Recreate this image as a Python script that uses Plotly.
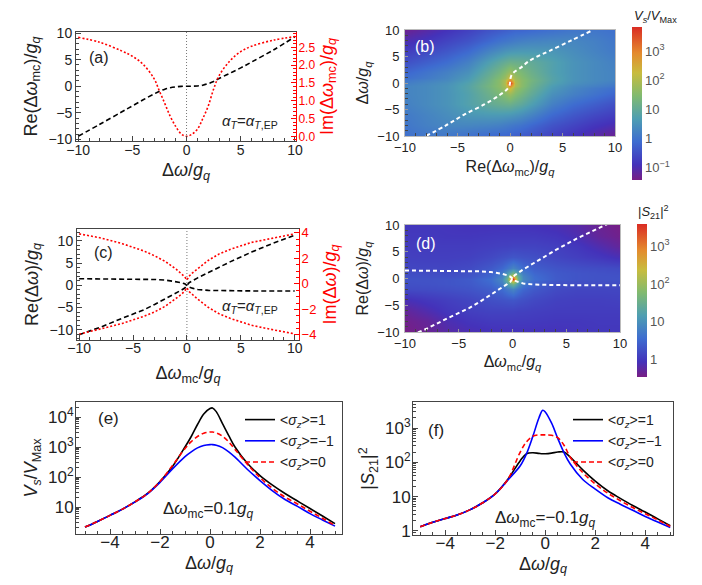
import plotly.graph_objects as go

# ------------------------------------------------------------------ data
# (a) Re / Im of Δω_mc versus Δω
a_dw = [-10, -8, -6, -5, -4, -3, -2.5, -2, -1.5, -1, -0.5, 0, 0.5, 1, 1.5, 2, 2.5, 3, 4, 5, 6, 8, 10]
a_re_mc = [-9.4, -7.15, -4.85, -3.7, -2.55, -1.45, -0.95, -0.55, -0.28, -0.12, -0.03, 0.0, 0.01, 0.05,
           0.2, 0.5, 0.9, 1.45, 2.45, 3.45, 4.55, 6.8, 9.3]
a_im_mc = [2.78, 2.64, 2.40, 2.25, 2.02, 1.62, 1.27, 0.92, 0.56, 0.28, 0.07, 0.0, 0.06, 0.2, 0.5,
           0.85, 1.33, 1.7, 2.12, 2.38, 2.53, 2.7, 2.8]

# (b) white dashed curve: Δω versus Re(Δω_mc)
b_line_dw = [-10, -8, -6, -4, -2.5, -1.5, -1, -0.5, 0, 0.5, 1, 1.5, 2, 3, 4, 5, 6, 8, 10]
b_line_re = [-8.0, -6.1, -4.4, -2.4, -1.15, -0.45, -0.2, -0.05, 0.0, 0.02, 0.06, 0.15, 0.35, 1.1,
             1.7, 2.6, 3.7, 5.8, 7.9]

# (b) heat map  log10(Vs/VMax)
b_x = [-10, -8, -6, -4, -2, -1, -0.5, 0, 0.5, 1, 2, 4, 6, 8, 10]
b_y = [-10, -8, -6, -4, -2, -1, -0.5, 0, 0.5, 1, 2, 4, 6, 8, 10]
b_logz = [
    [-0.05, 0.05, 0.05, -0.05, -0.15, -0.2, -0.2, -0.25, -0.3, -0.35, -0.45, -0.7, -0.9, -1.1, -1.3],
    [0.05, 0.2, 0.3, 0.3, 0.25, 0.2, 0.15, 0.1, 0.05, 0.0, -0.15, -0.45, -0.65, -0.85, -1.0],
    [0.1, 0.25, 0.4, 0.55, 0.6, 0.6, 0.58, 0.55, 0.5, 0.42, 0.25, -0.15, -0.4, -0.6, -0.75],
    [0.2, 0.35, 0.5, 0.75, 1.0, 1.1, 1.13, 1.15, 1.05, 0.95, 0.7, 0.2, -0.1, -0.3, -0.5],
    [0.25, 0.35, 0.5, 0.75, 1.15, 1.4, 1.55, 1.75, 1.5, 1.3, 1.0, 0.45, 0.2, 0.0, -0.2],
    [0.25, 0.35, 0.5, 0.8, 1.25, 1.55, 1.8, 2.35, 1.75, 1.5, 1.15, 0.6, 0.3, 0.1, -0.05],
    [0.25, 0.35, 0.5, 0.8, 1.3, 1.6, 1.9, 2.9, 1.95, 1.6, 1.2, 0.65, 0.35, 0.2, 0.05],
    [0.15, 0.3, 0.45, 0.75, 1.25, 1.6, 2.0, 3.85, 2.0, 1.6, 1.25, 0.75, 0.45, 0.3, 0.15],
    [0.05, 0.2, 0.35, 0.65, 1.2, 1.6, 1.95, 2.9, 1.9, 1.6, 1.3, 0.8, 0.5, 0.35, 0.25],
    [-0.05, 0.1, 0.3, 0.6, 1.15, 1.5, 1.75, 2.35, 1.8, 1.55, 1.25, 0.8, 0.5, 0.35, 0.25],
    [-0.2, 0.0, 0.2, 0.45, 1.0, 1.3, 1.5, 1.75, 1.55, 1.4, 1.15, 0.75, 0.5, 0.35, 0.25],
    [-0.5, -0.3, -0.1, 0.2, 0.7, 0.95, 1.05, 1.15, 1.13, 1.1, 1.0, 0.75, 0.5, 0.35, 0.2],
    [-0.75, -0.6, -0.4, -0.15, 0.25, 0.42, 0.5, 0.55, 0.58, 0.6, 0.6, 0.55, 0.4, 0.25, 0.1],
    [-1.0, -0.85, -0.65, -0.45, -0.15, 0.0, 0.05, 0.1, 0.15, 0.2, 0.25, 0.3, 0.3, 0.2, 0.05],
    [-1.3, -1.1, -0.9, -0.7, -0.45, -0.35, -0.3, -0.25, -0.2, -0.2, -0.15, -0.05, 0.05, 0.05, -0.05],
]

# (c) Re / Im of Δω versus Δω_mc
c_dmc = [-10, -8, -6, -4, -3, -2, -1, -0.5, -0.2, 0, 0.2, 0.5, 1, 2, 3, 4, 6, 8, 10]
c_re_1 = [-11.1, -9.4, -7.4, -5.5, -4.3, -3.05, -1.75, -1.05, -0.6, 0.0, 0.6, 1.0, 1.7, 2.9, 4.1,
          5.3, 7.5, 9.5, 11.3]
c_re_2 = [1.5, 1.48, 1.45, 1.4, 1.33, 1.2, 0.9, 0.6, 0.35, 0.0, -0.38, -0.62, -0.92, -1.13, -1.2,
          -1.23, -1.25, -1.26, -1.27]
c_im_1 = [3.92, 3.6, 3.15, 2.58, 2.2, 1.75, 1.15, 0.82, 0.55, 0.3, 0.6, 0.85, 1.2, 1.85, 2.35, 2.7,
          3.25, 3.6, 3.92]
c_im_2 = [-3.95, -3.55, -3.1, -2.55, -2.2, -1.75, -1.15, -0.82, -0.55, -0.3, -0.6, -0.85, -1.2,
          -1.85, -2.35, -2.7, -3.25, -3.6, -3.92]

# (d) heat map  log10(|S21|^2)
d_x = [-10, -8, -6, -4, -2, -1, -0.5, 0, 0.5, 1, 2, 4, 6, 8, 10]
d_y = [-10, -8, -6, -4, -2, -1, -0.5, 0, 0.5, 1, 2, 4, 6, 8, 10]
d_logz = [
    [-0.45, -0.35, -0.2, -0.12, -0.07, -0.05, -0.05, -0.05, -0.05, -0.05, -0.05, -0.05, -0.02, 0.0, 0.0],
    [-0.4, -0.3, -0.12, -0.02, 0.03, 0.03, 0.03, 0.03, 0.03, 0.03, 0.02, 0.0, 0.0, 0.02, 0.02],
    [-0.3, -0.15, 0.0, 0.08, 0.12, 0.12, 0.12, 0.12, 0.1, 0.1, 0.08, 0.05, 0.05, 0.05, 0.05],
    [-0.1, 0.0, 0.08, 0.15, 0.25, 0.28, 0.3, 0.32, 0.28, 0.25, 0.18, 0.1, 0.08, 0.08, 0.1],
    [0.2, 0.22, 0.25, 0.3, 0.4, 0.55, 0.7, 0.85, 0.65, 0.5, 0.35, 0.2, 0.15, 0.15, 0.15],
    [0.25, 0.27, 0.3, 0.35, 0.5, 0.75, 1.15, 1.6, 1.05, 0.7, 0.45, 0.27, 0.22, 0.22, 0.22],
    [0.27, 0.28, 0.3, 0.36, 0.55, 0.85, 1.4, 2.5, 1.3, 0.8, 0.5, 0.3, 0.25, 0.25, 0.25],
    [0.28, 0.28, 0.3, 0.37, 0.58, 0.9, 1.5, 3.55, 1.5, 0.9, 0.58, 0.37, 0.3, 0.28, 0.28],
    [0.25, 0.25, 0.25, 0.3, 0.5, 0.8, 1.3, 2.5, 1.4, 0.85, 0.55, 0.36, 0.3, 0.28, 0.27],
    [0.22, 0.22, 0.22, 0.27, 0.45, 0.7, 1.05, 1.6, 1.15, 0.75, 0.5, 0.35, 0.3, 0.27, 0.25],
    [0.15, 0.15, 0.15, 0.2, 0.35, 0.5, 0.65, 0.85, 0.7, 0.55, 0.4, 0.3, 0.25, 0.22, 0.2],
    [0.1, 0.08, 0.08, 0.1, 0.18, 0.25, 0.28, 0.32, 0.3, 0.28, 0.25, 0.15, 0.08, 0.0, -0.1],
    [0.05, 0.05, 0.05, 0.05, 0.08, 0.1, 0.1, 0.12, 0.12, 0.12, 0.12, 0.08, 0.0, -0.15, -0.3],
    [0.02, 0.02, 0.0, 0.0, 0.02, 0.03, 0.03, 0.03, 0.03, 0.03, 0.03, -0.02, -0.12, -0.3, -0.4],
    [0.0, 0.0, -0.02, -0.05, -0.05, -0.05, -0.05, -0.05, -0.05, -0.05, -0.07, -0.12, -0.2, -0.35, -0.45],
]

# (e) Vs/VMax versus Δω for Δω_mc = 0.1 g_q
e_dw = [-5, -4.5, -4, -3.5, -3, -2.5, -2, -1.5, -1, -0.75, -0.5, -0.25, 0, 0.1, 0.25, 0.5, 0.75, 1,
        1.5, 2, 2.5, 3, 3.5, 4, 4.5, 5]
e_sz_p1 = [2.14, 3.31, 5.25, 8.5, 14.8, 28.2, 70.8, 224, 1000, 2240, 5620, 12600, 19100, 20000,
           15100, 6030, 2400, 1000, 282, 112, 53.7, 28.2, 15.8, 8.9, 5.0, 2.8]
e_sz_m1 = [2.14, 3.31, 5.25, 8.5, 14.8, 27.5, 66, 186, 479, 692, 933, 1120, 1200, 1200, 1150, 955,
           692, 457, 178, 76, 34.7, 17.8, 10.5, 6.0, 3.7, 2.3]
e_sz_0 = [2.14, 3.31, 5.25, 8.5, 14.8, 28.2, 70.8, 240, 891, 1510, 2240, 2880, 3160, 3160, 2950,
          2290, 1480, 832, 263, 95.5, 41.7, 21.4, 12.6, 7.2, 4.2, 2.4]

# (f) |S21|^2 versus Δω for Δω_mc = -0.1 g_q
f_dw = [-5, -4.5, -4, -3.5, -3, -2.5, -2, -1.5, -1, -0.75, -0.5, -0.25, -0.1, 0, 0.25, 0.5, 0.75,
        1, 1.5, 2, 2.5, 3, 3.5, 4, 4.5, 5]
f_sz_p1 = [1.32, 1.78, 2.29, 2.95, 4.17, 6.6, 12.0, 31.6, 112, 178, 191, 182, 178, 178, 186, 200,
           200, 141, 60.3, 28.2, 14.8, 8.9, 5.5, 3.55, 2.24, 1.41]
f_sz_m1 = [1.32, 1.78, 2.29, 2.95, 4.17, 6.6, 12.0, 30.2, 79.4, 178, 562, 2000, 3310, 2950, 1410,
           501, 191, 89, 31.6, 16.6, 9.3, 6.0, 4.0, 2.63, 1.82, 1.26]
f_sz_0 = [1.32, 1.78, 2.29, 2.95, 4.17, 6.6, 12.0, 31.6, 200, 398, 575, 631, 631, 631, 617, 525,
          316, 141, 50.1, 23.4, 12.6, 7.6, 4.8, 3.16, 2.09, 1.35]

cb_b_vals = [-1, 0, 1, 2, 3]
cb_b_text = ["10<sup>−1</sup>", "1", "10", "10<sup>2</sup>", "10<sup>3</sup>"]
cb_d_vals = [0, 1, 2, 3]
cb_d_text = ["1", "10", "10<sup>2</sup>", "10<sup>3</sup>"]
lin_ticks = [-10, -5, 0, 5, 10]
e_x_ticks = [-4, -2, 0, 2, 4]
e_y_vals = [10, 100, 1000, 10000]
e_y_text = ["10", "10<sup>2</sup>", "10<sup>3</sup>", "10<sup>4</sup>"]
f_y_vals = [1, 10, 100, 1000]
f_y_text = ["1", "10", "10<sup>2</sup>", "10<sup>3</sup>"]

# ------------------------------------------------------------------ layout helpers
W, H = 702, 585
FONT = "Liberation Sans, Arial, Helvetica, sans-serif"


def dx(p0, p1):
    return [p0 / W, p1 / W]


def dy(top, bottom):
    return [1 - bottom / H, 1 - top / H]


RAINBOW = [
    [0.0, "rgb(120,30,132)"],
    [0.1, "rgb(68,50,186)"],
    [0.25, "rgb(62,108,208)"],
    [0.4, "rgb(78,158,178)"],
    [0.55, "rgb(128,186,112)"],
    [0.7, "rgb(200,188,62)"],
    [0.83, "rgb(228,138,46)"],
    [1.0, "rgb(218,44,36)"],
]

FRAME = "#444444"
TICKF = dict(family=FONT, size=14, color="#222222")


def frame_axis(domain, rng, tickvals, anchor, minor_dtick, mirror=True, tickfont=None, **kw):
    d = dict(domain=domain, range=rng, tickvals=tickvals, anchor=anchor, automargin=False,
             ticks="inside", ticklen=5, tickcolor=FRAME, tickwidth=1,
             showline=True, linecolor=FRAME, linewidth=1, mirror=mirror,
             showgrid=False, zeroline=False, tickfont=tickfont or TICKF,
             minor=dict(ticks="inside", ticklen=3, dtick=minor_dtick, tickcolor=FRAME,
                        showgrid=False))
    d.update(kw)
    return d


fig = go.Figure()

DASH_K = dict(color="black", width=1.6, dash="5px,3px")
DOT_R = dict(color="red", width=1.6, dash="2px,2px")

# ---- (a)
fig.add_trace(go.Scatter(x=a_dw, y=a_re_mc, mode="lines", line=DASH_K, line_shape="spline",
                         xaxis="x", yaxis="y", showlegend=False))
fig.add_trace(go.Scatter(x=a_dw, y=a_im_mc, mode="lines", line=DOT_R, line_shape="spline",
                         xaxis="x", yaxis="y2", showlegend=False))

# ---- (b)
fig.add_trace(go.Heatmap(x=b_x, y=b_y, z=b_logz, zsmooth="best", colorscale=RAINBOW,
                         zmin=-1.43, zmax=3.83, xaxis="x2", yaxis="y3",
                         colorbar=dict(x=624 / W, xanchor="left", y=1 - 19 / H, yanchor="top",
                                       len=153 / H, lenmode="fraction", thickness=10,
                                       outlinewidth=0, xpad=0, ypad=0, ticks="",
                                       tickvals=cb_b_vals, ticktext=cb_b_text,
                                       tickfont=dict(family=FONT, size=13, color="#555555"))))
fig.add_trace(go.Scatter(x=b_line_re, y=b_line_dw, mode="lines", line_shape="spline",
                         line=dict(color="white", width=2, dash="4px,3px"),
                         xaxis="x2", yaxis="y3", showlegend=False))

# ---- (c)
fig.add_trace(go.Scatter(x=c_dmc, y=c_re_1, mode="lines", line=DASH_K, xaxis="x3", yaxis="y4",
                         showlegend=False))
fig.add_trace(go.Scatter(x=c_dmc, y=c_re_2, mode="lines", line=DASH_K, xaxis="x3", yaxis="y4",
                         showlegend=False))
fig.add_trace(go.Scatter(x=c_dmc, y=c_im_1, mode="lines", line=DOT_R, xaxis="x3", yaxis="y5",
                         showlegend=False))
fig.add_trace(go.Scatter(x=c_dmc, y=c_im_2, mode="lines", line=DOT_R, xaxis="x3", yaxis="y5",
                         showlegend=False))

# ---- (d)
fig.add_trace(go.Heatmap(x=d_x, y=d_y, z=d_logz, zsmooth="best", colorscale=RAINBOW,
                         zmin=-0.46, zmax=3.59, xaxis="x4", yaxis="y6",
                         colorbar=dict(x=629 / W, xanchor="left", y=1 - 216 / H, yanchor="top",
                                       len=153 / H, lenmode="fraction", thickness=10,
                                       outlinewidth=0, xpad=0, ypad=0, ticks="",
                                       tickvals=cb_d_vals, ticktext=cb_d_text,
                                       tickfont=dict(family=FONT, size=13, color="#555555"))))
for ys in (c_re_1, c_re_2):
    fig.add_trace(go.Scatter(x=c_dmc, y=ys, mode="lines",
                             line=dict(color="white", width=2, dash="4px,3px"),
                             xaxis="x4", yaxis="y6", showlegend=False))

# ---- (e)
LBL_P1 = "&lt;<i>σ<sub>z</sub></i>&gt;=1"
LBL_M1 = "&lt;<i>σ<sub>z</sub></i>&gt;=−1"
LBL_0 = "&lt;<i>σ<sub>z</sub></i>&gt;=0"
fig.add_trace(go.Scatter(x=e_dw, y=e_sz_p1, mode="lines", name=LBL_P1, line_shape="spline",
                         line=dict(color="black", width=1.6), xaxis="x5", yaxis="y7",
                         legend="legend"))
fig.add_trace(go.Scatter(x=e_dw, y=e_sz_m1, mode="lines", name=LBL_M1, line_shape="spline",
                         line=dict(color="blue", width=1.6), xaxis="x5", yaxis="y7",
                         legend="legend"))
fig.add_trace(go.Scatter(x=e_dw, y=e_sz_0, mode="lines", name=LBL_0, line_shape="spline",
                         line=dict(color="red", width=1.6, dash="5px,3px"), xaxis="x5",
                         yaxis="y7", legend="legend"))

# ---- (f)
fig.add_trace(go.Scatter(x=f_dw, y=f_sz_p1, mode="lines", name=LBL_P1, line_shape="spline",
                         line=dict(color="black", width=1.6), xaxis="x6", yaxis="y8",
                         legend="legend2"))
fig.add_trace(go.Scatter(x=f_dw, y=f_sz_m1, mode="lines", name=LBL_M1, line_shape="spline",
                         line=dict(color="blue", width=1.6), xaxis="x6", yaxis="y8",
                         legend="legend2"))
fig.add_trace(go.Scatter(x=f_dw, y=f_sz_0, mode="lines", name=LBL_0, line_shape="spline",
                         line=dict(color="red", width=1.6, dash="5px,3px"), xaxis="x6",
                         yaxis="y8", legend="legend2"))

# ------------------------------------------------------------------ axes
TITLE = dict(family=FONT, size=18, color="#222222")
TITLE_S = dict(family=FONT, size=16, color="#222222")
RED_T = dict(family=FONT, size=18, color="red")
HM = "#bbbbbb"
HM_TICKF = dict(family=FONT, size=13, color="#222222")
BIGF = dict(family=FONT, size=17, color="#222222")

dw_t = "Δ<i>ω</i>/<i>g<sub>q</sub></i>"
dmc_t = "Δ<i>ω</i><sub>mc</sub>/<i>g<sub>q</sub></i>"

lay = dict(
    width=W, height=H, autosize=False,
    margin=dict(l=0, r=0, t=0, b=0, autoexpand=False),
    paper_bgcolor="white", plot_bgcolor="white",
    font=dict(family=FONT, color="#222222"),
    # (a)
    xaxis=frame_axis(dx(68, 288), [-10.2, 10.1], lin_ticks, "y", 1, ticklabelstandoff=-4,
                     title=dict(text=dw_t, font=TITLE, standoff=6)),
    yaxis=frame_axis(dy(24, 133), [-10.3, 10.2], lin_ticks, "x", 1, mirror=False,
                     ticklabelstandoff=0,
                     title=dict(text="Re(Δ<i>ω</i><sub>mc</sub>)/<i>g<sub>q</sub></i>",
                                font=TITLE, standoff=6)),
    yaxis2=dict(domain=dy(24, 133), range=[-0.13, 2.93], overlaying="y", side="right",
                anchor="x", automargin=False, tickvals=[0, 0.5, 1, 1.5, 2, 2.5],
                ticktext=["0.0", "0.5", "1.0", "1.5", "2.0", "2.5"], ticklabelstandoff=-1,
                ticks="inside", ticklen=5, tickcolor="red", showline=True, linecolor="red",
                showgrid=False, zeroline=False,
                tickfont=dict(family=FONT, size=12, color="red"),
                minor=dict(ticks="inside", ticklen=3, dtick=0.1, tickcolor="red"),
                title=dict(text="Im(Δ<i>ω</i><sub>mc</sub>)/<i>g<sub>q</sub></i>", font=RED_T,
                           standoff=5)),
    # (b)
    xaxis2=frame_axis(dx(397, 607), [-10, 10], lin_ticks, "y3", 1, tickfont=HM_TICKF,
                      linecolor=HM, tickcolor="#999999", ticklen=3, ticklabelstandoff=-1,
                      title=dict(text="Re(Δ<i>ω</i><sub>mc</sub>)/<i>g<sub>q</sub></i>",
                                 font=TITLE_S, standoff=7)),
    yaxis3=frame_axis(dy(22, 128), [-10, 10], lin_ticks, "x2", 1, tickfont=HM_TICKF,
                      linecolor=HM, tickcolor="#999999", ticklen=3, ticklabelstandoff=2,
                      title=dict(text=dw_t, font=TITLE_S, standoff=4)),
    # (c)
    xaxis3=frame_axis(dx(69, 291), [-10.2, 10.4], lin_ticks, "y4", 1, ticklabelstandoff=-5,
                      title=dict(text=dmc_t, font=TITLE, standoff=11)),
    yaxis4=frame_axis(dy(221, 332), [-12.3, 12.7], [-10, -5, 0, 5, 10], "x3", 1, mirror=False,
                      ticklabelstandoff=0,
                      title=dict(text="Re(Δ<i>ω</i>)/<i>g<sub>q</sub></i>", font=TITLE,
                                 standoff=6)),
    yaxis5=dict(domain=dy(221, 332), range=[-4.4, 4.3], overlaying="y4", side="right",
                anchor="x3", automargin=False, tickvals=[-4, -2, 0, 2, 4], ticks="inside",
                ticklabelstandoff=-1,
                ticklen=5, tickcolor="red", showline=True, linecolor="red", showgrid=False,
                zeroline=False, tickfont=dict(family=FONT, size=13, color="red"),
                minor=dict(ticks="inside", ticklen=3, dtick=0.5, tickcolor="red"),
                title=dict(text="Im(Δ<i>ω</i>)/<i>g<sub>q</sub></i>", font=RED_T, standoff=7)),
    # (d)
    xaxis4=frame_axis(dx(397, 612), [-10, 10], lin_ticks, "y6", 1, tickfont=HM_TICKF,
                      linecolor=HM, tickcolor="#999999", ticklen=3, ticklabelstandoff=-1,
                      title=dict(text=dmc_t, font=TITLE_S, standoff=6)),
    yaxis6=frame_axis(dy(217, 324), [-10, 10], lin_ticks, "x4", 1, tickfont=HM_TICKF,
                      linecolor=HM, tickcolor="#999999", ticklen=3, ticklabelstandoff=2,
                      title=dict(text="Re(Δ<i>ω</i>)/<i>g<sub>q</sub></i>", font=TITLE_S,
                                 standoff=4)),
    # (e)
    xaxis5=frame_axis(dx(68, 334), [-5.36, 5.28], e_x_ticks, "y7", 0.5, tickfont=BIGF,
                      ticklabelstandoff=-7,
                      title=dict(text=dw_t, font=TITLE, standoff=4)),
    yaxis7=frame_axis(dy(394, 526), [0.1, 4.5], e_y_vals, "x5", "D1", type="log",
                      ticktext=e_y_text, tickfont=BIGF, ticklabelstandoff=-2,
                      title=dict(text="<i>V<sub>s</sub></i>/<i>V</i><sub>Max</sub>", font=TITLE,
                                 standoff=5)),
    # (f)
    xaxis6=frame_axis(dx(405, 665), [-5.29, 5.11], e_x_ticks, "y8", 0.5, tickfont=BIGF,
                      ticklabelstandoff=-7,
                      title=dict(text=dw_t, font=TITLE, standoff=4)),
    yaxis8=frame_axis(dy(394, 527), [-0.12, 3.76], f_y_vals, "x6", "D1", type="log",
                      ticktext=f_y_text, tickfont=BIGF, ticklabelstandoff=-2,
                      title=dict(text="|<i>S</i><sub>21</sub>|<sup>2</sup>", font=TITLE,
                                 standoff=5)),
    legend=dict(x=232 / W, y=1 - 396 / H, xanchor="left", yanchor="top",
                bgcolor="rgba(0,0,0,0)", font=dict(family=FONT, size=14, color="#222222"),
                itemwidth=30, tracegroupgap=0),
    legend2=dict(x=560 / W, y=1 - 396 / H, xanchor="left", yanchor="top",
                 bgcolor="rgba(0,0,0,0)", font=dict(family=FONT, size=14, color="#222222"),
                 itemwidth=30, tracegroupgap=0),
)
fig.update_layout(**lay)

# vertical dotted guides at zero detuning
for xr, yr in (("x", "y"), ("x3", "y4")):
    fig.add_shape(type="line", xref=xr, yref=yr + " domain", x0=0, x1=0, y0=0, y1=1,
                  line=dict(color="#777777", width=1, dash="1px,2px"), layer="below")

ann = [
    ("(a)", 91, 49, 16, "#222222"),
    ("(b)", 417, 39, 16, "white"),
    ("(c)", 95, 244, 16, "#222222"),
    ("(d)", 418, 235, 16, "white"),
    ("(e)", 100, 410, 17, "#222222"),
    ("(f)", 428, 422, 17, "#222222"),
    ("<i>α<sub>T</sub></i>=<i>α</i><sub><i>T</i>,EP</sub>", 242, 114, 15, "#222222"),
    ("<i>α<sub>T</sub></i>=<i>α</i><sub><i>T</i>,EP</sub>", 242, 298, 15, "#222222"),
    ("Δ<i>ω</i><sub>mc</sub>=0.1<i>g<sub>q</sub></i>", 200, 502, 17, "#222222"),
    ("Δ<i>ω</i><sub>mc</sub>=−0.1<i>g<sub>q</sub></i>", 537, 511, 17, "#222222"),
]
for text, x, y, size, color in ann:
    fig.add_annotation(text=text, x=x / W, y=1 - y / H, xref="paper", yref="paper",
                       showarrow=False, xanchor="center", yanchor="middle",
                       font=dict(family=FONT, size=size, color=color))

fig.add_annotation(text="<i>V<sub>s</sub></i>/<i>V</i><sub>Max</sub>", x=624 / W, y=1 - 9 / H,
                   xref="paper", yref="paper", showarrow=False, xanchor="left",
                   yanchor="middle", font=dict(family=FONT, size=13, color="#222222"))
fig.add_annotation(text="|<i>S</i><sub>21</sub>|<sup>2</sup>", x=628 / W, y=1 - 204 / H,
                   xref="paper", yref="paper", showarrow=False, xanchor="left",
                   yanchor="middle", font=dict(family=FONT, size=13, color="#222222"))

fig.write_html("out.html")
